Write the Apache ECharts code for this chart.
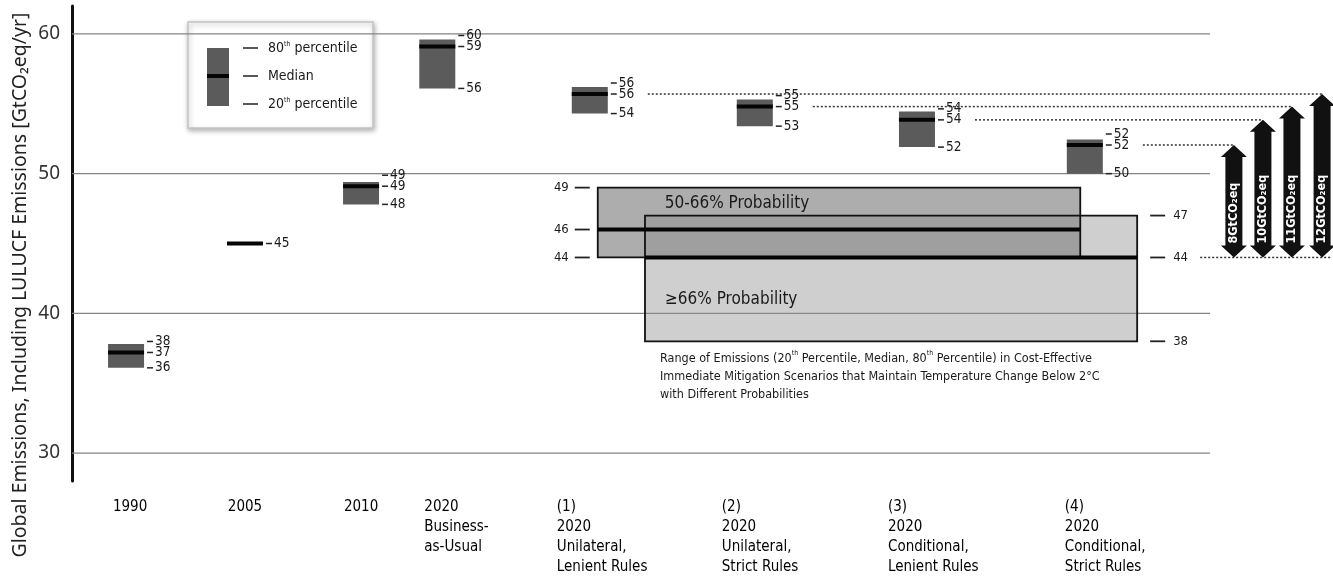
<!DOCTYPE html>
<html>
<head>
<meta charset="utf-8">
<title>Global emissions 2020 scenarios</title>
<script src="https://cdn.jsdelivr.net/npm/echarts/dist/echarts.min.js"></script>
<style>
  html, body { margin: 0; padding: 0; background: #fff; }
  #chart { width: 1333px; height: 583px; }
</style>
</head>
<body>
<div id="chart"></div>
<script>
// categories along the bottom
var categories = [
    '1990',
    '2005',
    '2010',
    '2020\nBusiness-\nas-Usual',
    '(1)\n2020\nUnilateral,\nLenient Rules',
    '(2)\n2020\nUnilateral,\nStrict Rules',
    '(3)\n2020\nConditional,\nLenient Rules',
    '(4)\n2020\nConditional,\nStrict Rules'
];
// emissions per category, GtCO2eq/yr
var p20    = [36.1, 45, 47.8, 56.1, 54.3, 53.4, 51.9, 50.0];
var median = [37.2, 45, 49.1, 59.1, 55.7, 54.8, 53.85, 52.05];
var p80    = [37.8, 45, 49.4, 59.6, 56.2, 55.3, 54.45, 52.45];
// 2 degree ranges
var probNames  = ['50-66% Probability', '\u226566% Probability'];
var probP20    = [44, 38];
var probMedian = [46, 44];
var probP80    = [49, 47];
// y axis tick labels
var yTicks = [30, 40, 50, 60];

// layout (x axis runs 0..100, not data)
var slotX = [4.75, 15.2, 25.4, 32.1, 45.5, 60.0, 74.25, 89.0];
var labelShift = [4, 0, 0, -13, -33, -33, -29, -20];
var labelAlign = ['center', 'center', 'center', 'left', 'left', 'left', 'left', 'left'];
var probX0 = [46.2, 50.35];
var probX1 = [88.6, 93.6];
var arrowX = [109.85, 107.2, 104.65, 102.1];   // for scenarios (1)..(4)

var NARROW = '"Liberation Sans Narrow", "DejaVu Sans Condensed", "Roboto Condensed", sans-serif';
var SANS = '"Noto Sans", "Open Sans", sans-serif';
var BOX_W = 36;

function txt(text, x, y, size, align, vAlign, extra){
    var st = {
        text: text, x: x, y: y, fontSize: size, fontFamily: NARROW, fill: '#1a1a1a',
        align: align, textAlign: align, verticalAlign: vAlign, textVerticalAlign: vAlign
    };
    for (var k in extra) st[k] = extra[k];
    return {type: 'text', z2: 20, style: st};
}

// horizontal grid lines
function renderGrid(params, api){
    var cs = params.coordSys;
    var y = api.coord([0, api.value(1)])[1];
    return {type: 'line', shape: {x1: cs.x, y1: y, x2: cs.x + cs.width, y2: y},
        style: {stroke: '#858585', lineWidth: 1.2}};
}

// percentile box with median bar and value ticks
function renderBox(params, api){
    var x = api.value(0), lo = api.value(1), md = api.value(2), hi = api.value(3);
    var pHi = api.coord([x, hi]), pMd = api.coord([x, md]), pLo = api.coord([x, lo]);
    var left = pMd[0] - BOX_W / 2, right = left + BOX_W;
    var children = [], marks = [];
    if (hi > lo){
        children.push({type: 'rect', shape: {x: left, y: pHi[1], width: BOX_W, height: pLo[1] - pHi[1]},
            style: {fill: '#5b5b5b'}});
        marks.push([hi, Math.min(pHi[1], pMd[1] - 11)]);
        marks.push([md, pMd[1]]);
        marks.push([lo, Math.max(pLo[1], pMd[1] + 11)]);
    } else {
        marks.push([md, pMd[1]]);
    }
    children.push({type: 'rect', shape: {x: left, y: pMd[1] - 2, width: BOX_W, height: 4}, style: {fill: '#050505'}});
    marks.forEach(function(m){
        children.push({type: 'line', shape: {x1: right + 3, y1: m[1], x2: right + 9, y2: m[1]},
            style: {stroke: '#222', lineWidth: 1.5}});
        children.push(txt(String(Math.round(m[0])), right + 11, m[1], 13.5, 'left', 'middle'));
    });
    return {type: 'group', children: children};
}

// the two probability ranges
function renderProb(params, api){
    var i = api.value(5);
    var tl = api.coord([api.value(0), api.value(4)]);
    var br = api.coord([api.value(1), api.value(2)]);
    var yMd = api.coord([api.value(0), api.value(3)])[1];
    var w = br[0] - tl[0], h = br[1] - tl[1];
    var children = [
        {type: 'rect', z2: 0, shape: {x: tl[0], y: tl[1], width: w, height: h},
            style: {fill: i === 0 ? '#adadad' : 'rgba(141,141,141,0.42)'}},
        {type: 'rect', z2: 10, shape: {x: tl[0], y: tl[1], width: w, height: h},
            style: {fill: 'none', stroke: '#111', lineWidth: 1.8}},
        {type: 'rect', z2: 11, shape: {x: tl[0], y: yMd - 2, width: w, height: 4}, style: {fill: '#050505'}}
    ];
    var vals = [[api.value(4), tl[1]], [api.value(3), yMd], [api.value(2), br[1]]];
    vals.forEach(function(v){
        if (i === 0){
            children.push({type: 'line', z2: 10, shape: {x1: tl[0] - 23, y1: v[1], x2: tl[0] - 8, y2: v[1]},
                style: {stroke: '#222', lineWidth: 1.8}});
            children.push(txt(String(v[0]), tl[0] - 29, v[1], 13, 'right', 'middle'));
        } else {
            children.push({type: 'line', z2: 10, shape: {x1: br[0] + 13, y1: v[1], x2: br[0] + 28, y2: v[1]},
                style: {stroke: '#222', lineWidth: 1.8}});
            children.push(txt(String(v[0]), br[0] + 36, v[1], 13, 'left', 'middle'));
        }
    });
    if (i === 0){
        children.push(txt(probNames[i], tl[0] + 67, tl[1] + 16, 17, 'left', 'middle'));
    } else {
        children.push(txt(probNames[i], tl[0] + 20, (yMd + br[1]) / 2, 17, 'left', 'middle'));
        children.push({type: 'line', z2: 10, shape: {x1: br[0] + 63, y1: yMd, x2: br[0] + 193, y2: yMd},
            style: {stroke: '#333', lineWidth: 1.5, lineDash: [2, 2]}});
        children.push(txt('Range of Emissions (20{s|th} Percentile, Median, 80{s|th} Percentile) in Cost-Effective\n' +
            'Immediate Mitigation Scenarios that Maintain Temperature Change Below 2\u00b0C\n' +
            'with Different Probabilities', tl[0] + 15, br[1] + 8, 12.5, 'left', 'top',
            {lineHeight: 18, rich: {s: {fontSize: 7, fontFamily: NARROW, verticalAlign: 'top', lineHeight: 12}}}));
    }
    return {type: 'group', children: children};
}

// double arrows: gap between scenario median and the >=66% median
function renderArrow(params, api){
    var from = api.coord([api.value(0), api.value(3)]);
    var cx = api.coord([api.value(1), api.value(3)])[0];
    var yTop = from[1];
    var yBot = api.coord([api.value(1), api.value(2)])[1];
    var gap = Math.round(api.value(3) - api.value(2));
    var hw = 13, sw = 8.5, hh = 12;
    return {type: 'group', children: [
        {type: 'line', shape: {x1: from[0] + BOX_W / 2 + 40, y1: yTop, x2: cx, y2: yTop},
            style: {stroke: '#333', lineWidth: 1.5, lineDash: [2, 2]}},
        {type: 'polygon', shape: {points: [
            [cx, yTop], [cx + hw, yTop + hh], [cx + sw, yTop + hh], [cx + sw, yBot - hh], [cx + hw, yBot - hh],
            [cx, yBot], [cx - hw, yBot - hh], [cx - sw, yBot - hh], [cx - sw, yTop + hh], [cx - hw, yTop + hh]
        ]}, style: {fill: '#111'}},
        {type: 'text', x: cx, y: yBot - 14, rotation: Math.PI / 2, z2: 20,
            style: {text: gap + 'GtCO\u2082eq', x: 0, y: 0, fill: '#fff', fontSize: 12.5, fontWeight: 'bold',
                fontFamily: NARROW, align: 'left', textAlign: 'left', verticalAlign: 'middle', textVerticalAlign: 'middle'}}
    ]};
}

// category labels under the plot
function renderCategory(params, api){
    var i = api.value(1);
    var p = api.coord([api.value(0), 28]);
    return txt(categories[i], p[0] + labelShift[i], p[1] + 16, 15, labelAlign[i], 'top', {lineHeight: 20, fill: '#000'});
}

function legendText(y, main, sup, rest){
    return {type: 'text', x: 80, y: y, style: {
        text: '{m|' + main + '}' + (sup ? '{s|' + sup + '}' : '') + '{m|' + rest + '}',
        verticalAlign: 'middle', textVerticalAlign: 'middle', fill: '#1a1a1a',
        rich: {
            m: {fontSize: 14, fontFamily: NARROW, fill: '#1a1a1a'},
            s: {fontSize: 7, fontFamily: NARROW, fill: '#1a1a1a', verticalAlign: 'top'}
        }
    }};
}

var chart = echarts.init(document.getElementById('chart'));
var option = {
    backgroundColor: '#fff',
    animation: false,
    grid: {left: 72, right: 123, top: 6, bottom: 102, outerBoundsMode: 'none'},
    xAxis: {type: 'value', min: 0, max: 100, show: false},
    yAxis: {
        type: 'value', min: 28, max: 62, interval: 2,
        axisLine: {show: true, lineStyle: {color: '#111', width: 3}},
        axisTick: {show: false},
        splitLine: {show: false},
        axisLabel: {
            fontSize: 19, color: '#333', fontFamily: SANS, margin: 12,
            formatter: function(v){ return v % 10 === 0 ? String(v) : ''; }
        }
    },
    graphic: [
        {type: 'text', x: 20, y: 285, rotation: Math.PI / 2, style: {
            text: 'Global Emissions, Including LULUCF Emissions [GtCO\u2082eq/yr]',
            fontSize: 19.5, fontFamily: SANS, fill: '#222',
            align: 'center', textAlign: 'center', verticalAlign: 'middle', textVerticalAlign: 'middle'}},
        {type: 'group', x: 188, y: 22, z: 10, children: [
            {type: 'rect', shape: {x: 0, y: 0, width: 185, height: 106},
                style: {fill: '#fff', stroke: '#c4c4c4', lineWidth: 1.5, shadowBlur: 5,
                    shadowColor: 'rgba(0,0,0,0.3)', shadowOffsetX: 1, shadowOffsetY: 2}},
            {type: 'rect', shape: {x: 19, y: 26, width: 22, height: 58}, style: {fill: '#5b5b5b'}},
            {type: 'rect', shape: {x: 19, y: 52, width: 22, height: 4}, style: {fill: '#050505'}},
            {type: 'line', shape: {x1: 55, y1: 26, x2: 70, y2: 26}, style: {stroke: '#222', lineWidth: 1.5}},
            {type: 'line', shape: {x1: 55, y1: 54, x2: 70, y2: 54}, style: {stroke: '#222', lineWidth: 1.5}},
            {type: 'line', shape: {x1: 55, y1: 82, x2: 70, y2: 82}, style: {stroke: '#222', lineWidth: 1.5}},
            legendText(26, '80', 'th', ' percentile'),
            legendText(54, 'Median', '', ''),
            legendText(82, '20', 'th', ' percentile')
        ]}
    ],
    series: [
        {
            type: 'custom', z: 1, silent: true,
            data: yTicks.map(function(v){ return [0, v]; }),
            renderItem: renderGrid
        },
        {
            type: 'custom', z: 2, silent: true,
            data: probNames.map(function(n, i){
                return [probX0[i], probX1[i], probP20[i], probMedian[i], probP80[i], i];
            }),
            renderItem: renderProb
        },
        {
            type: 'custom', z: 3, silent: true,
            data: categories.map(function(c, i){ return [slotX[i], p20[i], median[i], p80[i]]; }),
            renderItem: renderBox
        },
        {
            type: 'custom', z: 4, silent: true,
            data: [4, 5, 6, 7].map(function(c, k){ return [slotX[c], arrowX[k], probMedian[1], median[c]]; }),
            renderItem: renderArrow
        },
        {
            type: 'custom', z: 5, silent: true,
            data: categories.map(function(c, i){ return [slotX[i], i]; }),
            renderItem: renderCategory
        }
    ]
};
chart.setOption(option);
</script>
</body>
</html>
